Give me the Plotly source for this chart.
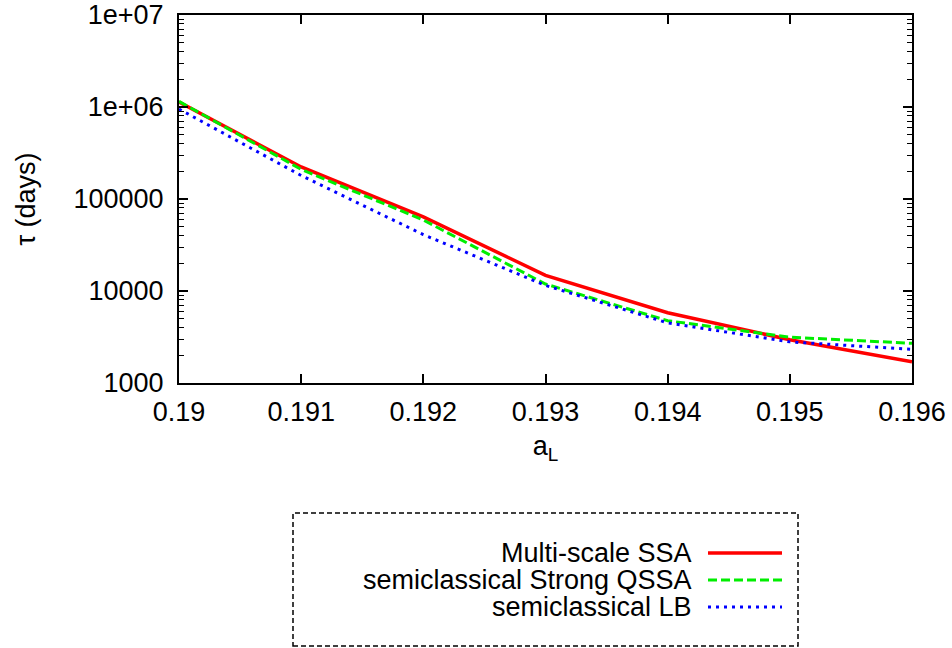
import plotly.graph_objects as go

# Lifetime tau (days) as a function of a_L for three approximations
a_L = [0.190, 0.191, 0.192, 0.193, 0.194, 0.195, 0.196]
tau_multiscale_ssa = [1.13e6, 2.23e5, 6.4e4, 1.48e4, 5.8e3, 2.95e3, 1.70e3]
tau_strong_qssa = [1.15e6, 2.10e5, 5.9e4, 1.19e4, 4.75e3, 3.15e3, 2.70e3]
tau_lb = [9.5e5, 1.80e5, 4.1e4, 1.15e4, 4.5e3, 2.80e3, 2.32e3]

series_names = ["Multi-scale SSA", "semiclassical Strong QSSA", "semiclassical LB"]
series_values = [tau_multiscale_ssa, tau_strong_qssa, tau_lb]
series_colors = ["#ff0000", "#00ee00", "#0000ff"]
series_dash = ["solid", "9px,4px", "3px,5px"]
series_width = [3.5, 3, 3]

x_ticks = [0.190, 0.191, 0.192, 0.193, 0.194, 0.195, 0.196]
x_tick_text = ["0.19", "0.191", "0.192", "0.193", "0.194", "0.195", "0.196"]
y_ticks = [1e3, 1e4, 1e5, 1e6, 1e7]
y_tick_text = ["1000", "10000", "100000", "1e+06", "1e+07"]
y_minor = [m * 10 ** e for e in range(3, 7) for m in range(2, 10)]

W, H = 952, 648
FONT = "Liberation Sans, Arial, Helvetica, sans-serif"
FS = 27

# plot area in pixels
PL, PR, PT, PB = 179, 912, 15, 383


def px(x):
    return x / W


def py(y):
    return 1 - y / H


fig = go.Figure()
for name, vals, col, dash, lw in zip(series_names, series_values, series_colors,
                                      series_dash, series_width):
    fig.add_trace(go.Scatter(
        x=a_L, y=vals, mode="lines", name=name, showlegend=False,
        line=dict(color=col, dash=dash, width=lw),
    ))

axis_common = dict(
    showline=True, linecolor="black", linewidth=2, mirror="ticks",
    ticks="inside", ticklen=9, tickwidth=1.5, tickcolor="black",
    showgrid=False, zeroline=False, automargin=False,
    tickfont=dict(family=FONT, size=FS, color="black"),
)

fig.update_xaxes(
    range=[0.190, 0.196], tickmode="array", tickvals=x_ticks, ticktext=x_tick_text,
    domain=[px(PL), px(PR)], ticklabelstandoff=4,
    title=dict(text="a<sub>L</sub>", font=dict(family=FONT, size=FS, color="black"),
               standoff=10),
    **axis_common,
)
fig.update_yaxes(
    type="log", range=[3, 7], tickmode="array", tickvals=y_ticks, ticktext=y_tick_text,
    domain=[py(PB), py(PT)], ticklabelstandoff=8,
    minor=dict(ticks="inside", ticklen=5, tickwidth=1.2, tickcolor="black",
               tickmode="array", tickvals=y_minor, showgrid=False),
    title=dict(text="τ (days)", font=dict(family=FONT, size=FS, color="black"),
               standoff=30),
    **axis_common,
)

# key box with right-aligned labels and line samples
shapes = [dict(type="rect", xref="paper", yref="paper",
               x0=px(293), x1=px(798), y0=py(646), y1=py(513),
               line=dict(color="black", width=1.5, dash="5px,3px"))]
annotations = []
row_y = [553, 580, 607]
for name, col, dash, lw, ry in zip(series_names, series_colors, series_dash,
                                   series_width, row_y):
    annotations.append(dict(
        xref="paper", yref="paper", x=px(694), y=py(ry), text=name,
        showarrow=False, xanchor="right", yanchor="middle",
        font=dict(family=FONT, size=FS, color="black"),
    ))
    shapes.append(dict(type="line", xref="paper", yref="paper",
                       x0=px(708), x1=px(782), y0=py(ry), y1=py(ry),
                       line=dict(color=col, dash=dash, width=lw)))

fig.update_layout(
    width=W, height=H,
    margin=dict(l=0, r=0, t=0, b=0, autoexpand=False),
    paper_bgcolor="white", plot_bgcolor="white",
    shapes=shapes, annotations=annotations,
    font=dict(family=FONT, size=FS, color="black"),
)

fig.write_html("out.html")
